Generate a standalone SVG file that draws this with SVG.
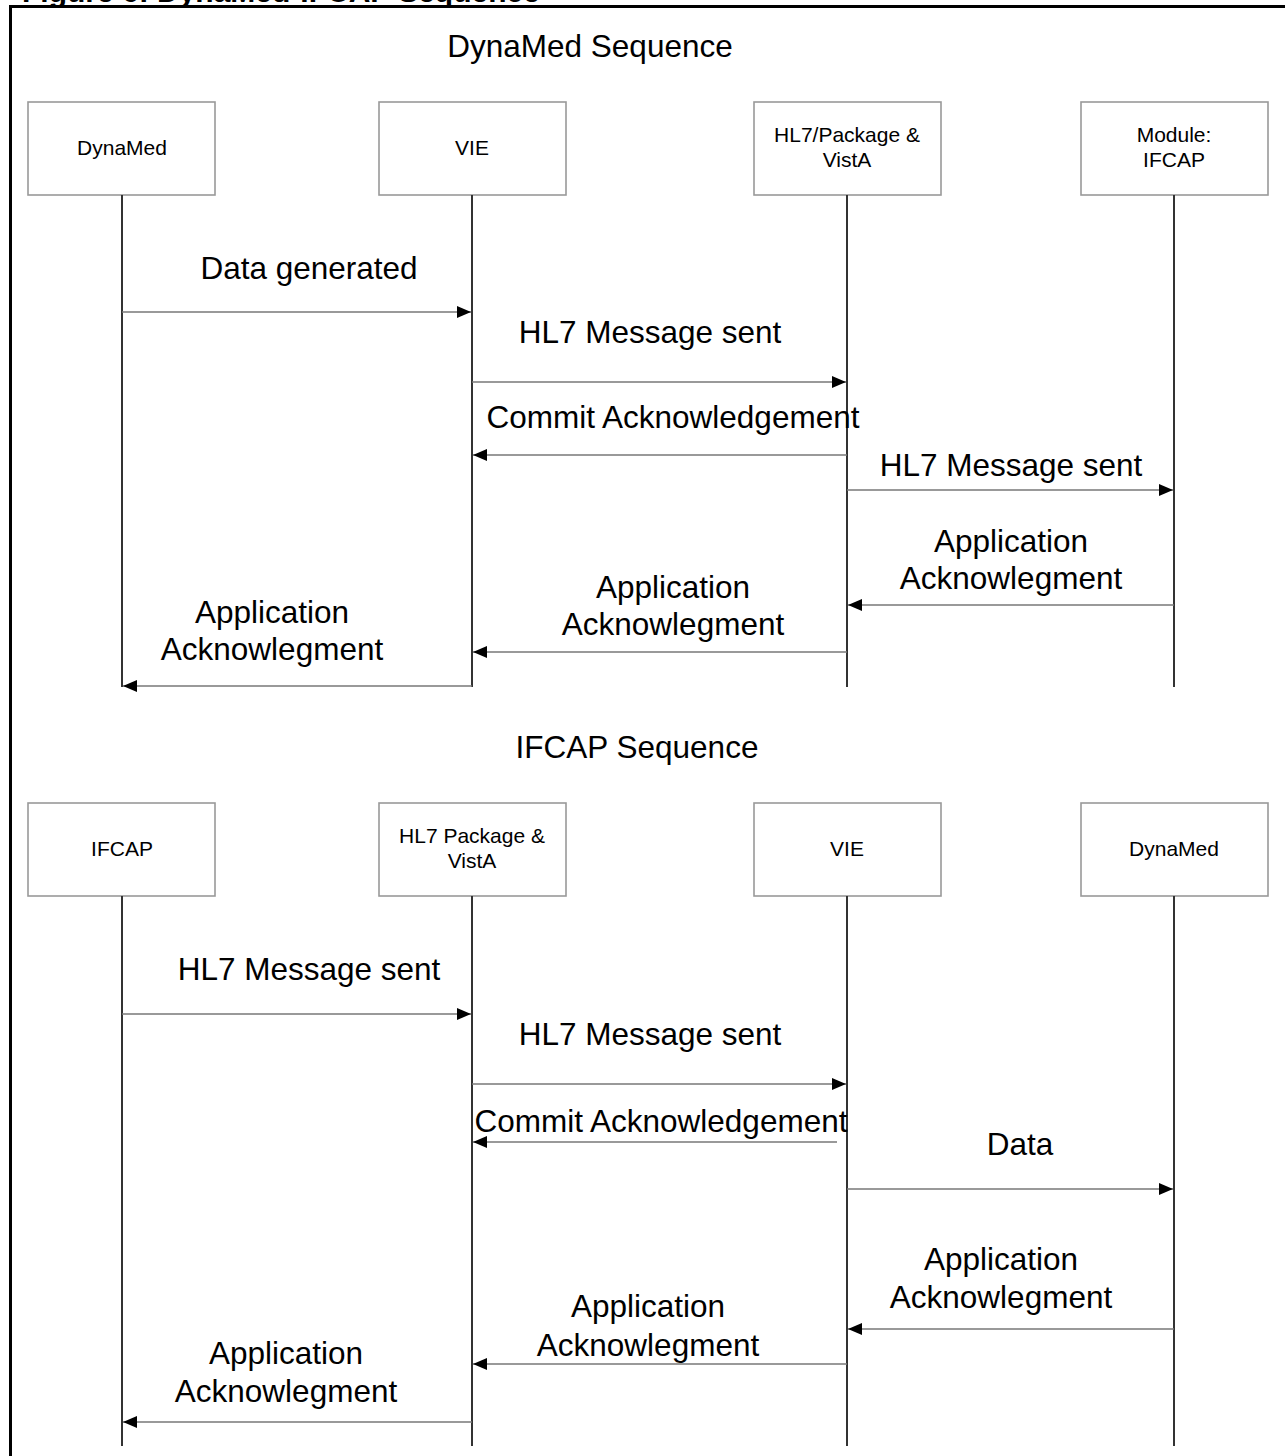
<svg xmlns="http://www.w3.org/2000/svg" width="1285" height="1456" viewBox="0 0 1285 1456">
<defs>
<style>
text{font-family:"Liberation Sans",Arial,sans-serif;fill:#000}
.cap{font-weight:bold;font-size:30px}
.ttl{font-size:31.5px;text-anchor:middle}
.lbl{font-size:21px;text-anchor:middle}
.msg{font-size:31.5px;text-anchor:middle}
.box{fill:#fff;stroke:#999;stroke-width:1.6}
.life{stroke:#333;stroke-width:2;fill:none}
.arr{stroke:#777;stroke-width:1.5;fill:none;marker-end:url(#ah)}
.frame{stroke:#000;stroke-width:3;fill:none}
</style>
<marker id="ah" viewBox="0 0 14 12" refX="14" refY="6" markerWidth="14" markerHeight="12" markerUnits="userSpaceOnUse" orient="auto">
<path d="M0,0 L14,6 L0,12 Z" fill="#000"/>
</marker>
</defs>
<rect width="1285" height="1456" fill="#fff"/>
<text class="cap" x="22" y="2">Figure 6: DynaMed-IFCAP Sequence</text>
<path class="frame" d="M10.5,1456 V6.5 H1285"/>

<text class="ttl" x="590" y="57">DynaMed Sequence</text>

<g id="top-dynamed"><rect class="box" x="28" y="102" width="187" height="93"/><text class="lbl" x="122" y="155">DynaMed</text></g>
<g id="top-vie"><rect class="box" x="379" y="102" width="187" height="93"/><text class="lbl" x="472" y="155">VIE</text></g>
<g id="top-hl7"><rect class="box" x="754" y="102" width="187" height="93"/><text class="lbl" x="847" y="142">HL7/Package &amp;</text><text class="lbl" x="847" y="167">VistA</text></g>
<g id="top-ifcap"><rect class="box" x="1081" y="102" width="187" height="93"/><text class="lbl" x="1174" y="142">Module:</text><text class="lbl" x="1174" y="167">IFCAP</text></g>

<g id="top-lifelines">
<line class="life" x1="122" y1="195" x2="122" y2="687"/>
<line class="life" x1="472" y1="195" x2="472" y2="687"/>
<line class="life" x1="847" y1="195" x2="847" y2="687"/>
<line class="life" x1="1174" y1="195" x2="1174" y2="687"/>
</g>

<g id="top-connectors">
<line class="arr" x1="122" y1="312" x2="471" y2="312"/>
<line class="arr" x1="472" y1="382" x2="846" y2="382"/>
<line class="arr" x1="847" y1="455" x2="473" y2="455"/>
<line class="arr" x1="847" y1="490" x2="1173" y2="490"/>
<line class="arr" x1="1174" y1="605" x2="848" y2="605"/>
<line class="arr" x1="847" y1="652" x2="473" y2="652"/>
<line class="arr" x1="472" y1="686" x2="123" y2="686"/>
</g>

<g id="top-labels">
<text class="msg" x="309" y="279">Data generated</text>
<text class="msg" x="650" y="343">HL7 Message sent</text>
<text class="msg" x="673" y="428">Commit Acknowledgement</text>
<text class="msg" x="1011" y="476">HL7 Message sent</text>
<text class="msg" x="1011" y="552">Application</text>
<text class="msg" x="1011" y="589">Acknowlegment</text>
<text class="msg" x="673" y="598">Application</text>
<text class="msg" x="673" y="635">Acknowlegment</text>
<text class="msg" x="272" y="623">Application</text>
<text class="msg" x="272" y="660">Acknowlegment</text>
</g>

<text class="ttl" x="637" y="758">IFCAP Sequence</text>

<g id="bot-ifcap"><rect class="box" x="28" y="803" width="187" height="93"/><text class="lbl" x="122" y="856">IFCAP</text></g>
<g id="bot-hl7"><rect class="box" x="379" y="803" width="187" height="93"/><text class="lbl" x="472" y="843">HL7 Package &amp;</text><text class="lbl" x="472" y="868">VistA</text></g>
<g id="bot-vie"><rect class="box" x="754" y="803" width="187" height="93"/><text class="lbl" x="847" y="856">VIE</text></g>
<g id="bot-dynamed"><rect class="box" x="1081" y="803" width="187" height="93"/><text class="lbl" x="1174" y="856">DynaMed</text></g>

<g id="bot-lifelines">
<line class="life" x1="122" y1="896" x2="122" y2="1446"/>
<line class="life" x1="472" y1="896" x2="472" y2="1446"/>
<line class="life" x1="847" y1="896" x2="847" y2="1446"/>
<line class="life" x1="1174" y1="896" x2="1174" y2="1446"/>
</g>

<g id="bot-connectors">
<line class="arr" x1="122" y1="1014" x2="471" y2="1014"/>
<line class="arr" x1="472" y1="1084" x2="846" y2="1084"/>
<line class="arr" x1="837" y1="1142" x2="473" y2="1142"/>
<line class="arr" x1="847" y1="1189" x2="1173" y2="1189"/>
<line class="arr" x1="1174" y1="1329" x2="848" y2="1329"/>
<line class="arr" x1="847" y1="1364" x2="473" y2="1364"/>
<line class="arr" x1="472" y1="1422" x2="123" y2="1422"/>
</g>

<g id="bot-labels">
<text class="msg" x="309" y="980">HL7 Message sent</text>
<text class="msg" x="650" y="1045">HL7 Message sent</text>
<text class="msg" x="661" y="1132">Commit Acknowledgement</text>
<text class="msg" x="1020" y="1155">Data</text>
<text class="msg" x="1001" y="1270">Application</text>
<text class="msg" x="1001" y="1308">Acknowlegment</text>
<text class="msg" x="648" y="1317">Application</text>
<text class="msg" x="648" y="1356">Acknowlegment</text>
<text class="msg" x="286" y="1364">Application</text>
<text class="msg" x="286" y="1402">Acknowlegment</text>
</g>
</svg>
